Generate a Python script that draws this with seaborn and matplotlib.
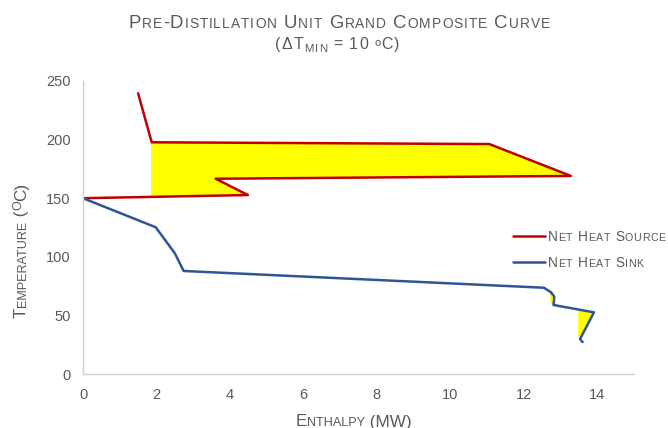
import matplotlib
matplotlib.use("Agg")
import numpy as np
import pandas as pd
import seaborn as sns
import matplotlib.pyplot as plt
from matplotlib.lines import Line2D
from matplotlib.transforms import IdentityTransform
from matplotlib.font_manager import FontProperties

# Net heat source (above the pinch): enthalpy in MW, temperature in degC
source_mw = [1.50, 1.87, 11.06, 13.28, 3.61, 4.49, 0.0]
source_t = [239.5, 197.7, 196.2, 169.0, 166.6, 152.7, 150.0]

# Net heat sink (below the pinch)
sink_mw = [0.0, 1.98, 2.50, 2.74, 12.55, 12.74, 12.83, 12.81, 13.91, 13.53, 13.60]
sink_t = [150.0, 125.2, 103.0, 87.9, 73.6, 69.7, 66.0, 58.9, 52.6, 29.8, 27.3]

# Heat-recovery pockets shaded on the curve
pocket_source_mw = [1.85, 11.06, 13.30, 3.61, 4.49, 1.85]
pocket_source_t = [197.5, 196.2, 168.5, 166.6, 152.7, 151.2]
pocket_sink1_mw = [12.70, 12.80, 12.84, 12.81, 12.74, 12.72]
pocket_sink1_t = [70.5, 67.0, 63.0, 59.0, 59.5, 66.0]
pocket_sink2_mw = [13.48, 13.88, 13.53, 13.48]
pocket_sink2_t = [54.5, 52.8, 30.0, 33.0]

series_names = ["Net Heat Source", "Net Heat Sink"]
x_ticks = [0, 2, 4, 6, 8, 10, 12, 14]
y_ticks = [0, 50, 100, 150, 200, 250]

RED = "#C00000"
BLUE = "#2F5597"
YELLOW = "#FFFF00"
TEXT = "#595959"
SPINE = "#D0D0D0"
FAMILY = ["Liberation Sans", "DejaVu Sans"]

sns.set_style("white")
plt.rcParams["font.family"] = FAMILY

W, H, DPI = 668, 428, 100
fig = plt.figure(figsize=(W / DPI, H / DPI), dpi=DPI)
ax = fig.add_axes([83 / W, (H - 374) / H, (634 - 83) / W, (374 - 81) / H])

df = pd.concat([
    pd.DataFrame({"mw": source_mw, "t": source_t, "series": series_names[0]}),
    pd.DataFrame({"mw": sink_mw, "t": sink_t, "series": series_names[1]}),
], ignore_index=True)
palette = {series_names[0]: RED, series_names[1]: BLUE}

for px, py in [(pocket_source_mw, pocket_source_t),
               (pocket_sink1_mw, pocket_sink1_t),
               (pocket_sink2_mw, pocket_sink2_t)]:
    ax.fill(px, py, color=YELLOW, lw=0, zorder=1)

sns.lineplot(data=df, x="mw", y="t", hue="series", palette=palette,
             sort=False, estimator=None, lw=1.8, legend=False, ax=ax, zorder=2)

ax.set_xlim(0, 15)
ax.set_ylim(0, 250)
ax.set_xticks(x_ticks)
ax.set_yticks(y_ticks)
ax.set_xlabel("")
ax.set_ylabel("")
ax.tick_params(length=0, labelsize=10.5, labelcolor=TEXT)
ax.tick_params(axis="x", pad=10)
ax.tick_params(axis="y", pad=9)
for side in ["top", "right"]:
    ax.spines[side].set_visible(False)
for side in ["left", "bottom"]:
    ax.spines[side].set_color(SPINE)
    ax.spines[side].set_linewidth(1.0)


def small_caps(text, big, ratio=0.74):
    runs = []
    for ch in text:
        if ch.islower():
            piece, size = ch.upper(), big * ratio
        else:
            piece, size = ch, big
        if runs and runs[-1][1] == size and runs[-1][2] == 0:
            runs[-1][0] += piece
        else:
            runs.append([piece, size, 0])
    return runs


def draw_runs(runs, x, y, rotation=0, align="center", color=TEXT, track=0.0):
    renderer = fig.canvas.get_renderer()
    if track:
        runs = [[ch, size, rise] for s, size, rise in runs for ch in s]
    widths = []
    for s, size, _ in runs:
        fp = FontProperties(family=FAMILY, size=size)
        w_full, _, _ = renderer.get_text_width_height_descent("|" + s + "|", fp, ismath=False)
        w_bars, _, _ = renderer.get_text_width_height_descent("||", fp, ismath=False)
        widths.append(w_full - w_bars + track)
    total = sum(widths) - track
    start = x if rotation == 0 else y
    if align == "center":
        start -= total / 2
    pos = start
    for (s, size, rise), w in zip(runs, widths):
        if rotation == 0:
            fig.text(pos, y + rise, s, fontsize=size, color=color, ha="left",
                     va="baseline", transform=IdentityTransform())
        else:
            fig.text(x - rise, pos, s, fontsize=size, color=color, rotation=90,
                     rotation_mode="anchor", ha="left", va="baseline",
                     transform=IdentityTransform())
        pos += w


# Title
draw_runs(small_caps("Pre-Distillation Unit Grand Composite Curve", 13.4), 339, H - 28.3,
          track=1.0)
draw_runs([["(\u0394T", 11.5, 0], ["MIN", 8.2, -2.8], [" = 10 ", 11.5, 0],
           ["o", 8.0, 3.8], ["C)", 11.5, 0]], 337.5, H - 49.3, track=1.0)

# Axis titles
draw_runs(small_caps("Enthalpy (MW)", 12.3), 354, H - 426.5)
draw_runs(small_caps("Temperature (", 12.3) + [["O", 9.0, 4.5]] + small_caps("C)", 12.3),
          26, H - 250, rotation=90)

# Legend
for name, colour, ly, tb in [(series_names[0], RED, 236, 241),
                             (series_names[1], BLUE, 262, 266.7)]:
    fig.add_artist(Line2D([513, 545], [H - ly, H - ly], color=colour, lw=1.8,
                          transform=IdentityTransform()))
    draw_runs(small_caps(name, 9.8, ratio=0.78), 548, H - tb, align="left", track=0.6)

fig.savefig("out.png", dpi=DPI)
